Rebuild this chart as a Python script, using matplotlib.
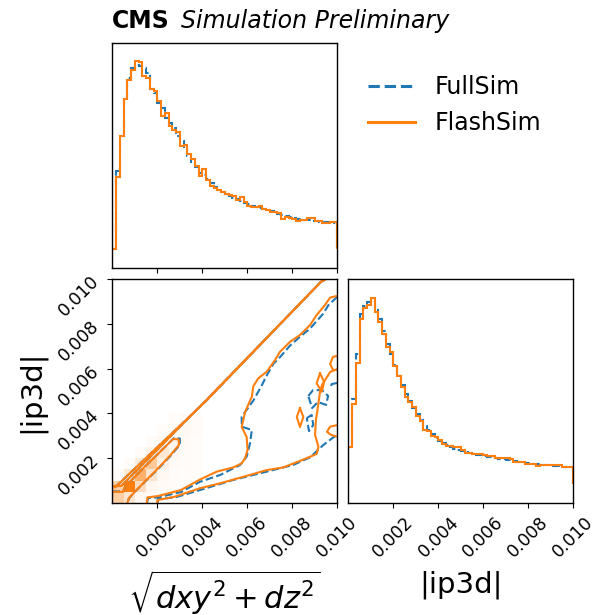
import numpy as np
import matplotlib.pyplot as plt
from matplotlib.colors import LinearSegmentedColormap
from matplotlib.lines import Line2D

BLUE = "#1f77b4"
ORANGE = "#ff7f0e"

# 1D histograms: 60 bins between 0 and 0.01 (arbitrary units)
edges = np.linspace(0, 0.01, 61)
dist_flash = [0, 72, 113, 150, 168, 178, 187, 186, 172, 170, 160, 158, 148, 133, 136,
              123, 119, 117, 103, 104, 95, 90, 83, 73, 80, 69, 63, 61, 59, 57,
              55, 54, 53, 49, 52, 47, 43, 42, 42, 43, 40, 39, 37, 37, 36,
              30, 32, 31, 30, 28, 29, 29, 31, 31, 28, 28, 26, 26, 27, 27]
dist_full = [0, 78, 113, 150, 170, 180, 183, 182, 180, 175, 160, 156, 146, 141, 131,
             126, 121, 113, 108, 100, 93, 87, 82, 76, 74, 70, 66, 62, 59, 57,
             55, 53, 51, 50, 48, 46, 45, 43, 42, 41, 40, 39, 38, 36, 35,
             34, 33, 32, 31, 30, 30, 29, 29, 28, 28, 27, 27, 27, 26, 27]
ip_flash = [37, 80, 121, 165, 176, 179, 186, 172, 162, 150, 137, 132, 118, 108, 97,
            87, 82, 77, 68, 63, 54, 53, 48, 47, 44, 40, 38, 38, 37, 37,
            34, 31, 31, 30, 30, 30, 29, 28, 28, 26, 26, 26, 26, 25, 22,
            22, 22, 20, 20, 20, 18, 19, 19, 19, 19, 19, 19, 17, 17, 17]
ip_full = [37, 85, 130, 170, 178, 182, 183, 176, 165, 153, 140, 130, 119, 108, 99,
           90, 83, 76, 70, 64, 58, 54, 50, 46, 43, 41, 39, 37, 35, 34,
           33, 32, 31, 30, 29, 29, 28, 27, 27, 26, 25, 25, 24, 23, 23,
           22, 22, 21, 21, 20, 20, 19, 19, 19, 18, 18, 18, 17, 17, 17]

# 2D density (FlashSim), 0.0005 cells in the low corner, rows = |ip3d| bins
cell_edges = np.linspace(0, 0.004, 9)
density = [
    [0.38, 0.20, 0.06, 0.04, 0.03, 0.03, 0.02, 0.02],
    [0.36, 1.00, 0.27, 0.07, 0.04, 0.03, 0.02, 0.02],
    [0.03, 0.18, 0.62, 0.20, 0.06, 0.03, 0.02, 0.02],
    [0.00, 0.03, 0.15, 0.42, 0.12, 0.04, 0.03, 0.02],
    [0.00, 0.00, 0.03, 0.10, 0.18, 0.07, 0.03, 0.02],
    [0.00, 0.00, 0.00, 0.03, 0.06, 0.08, 0.04, 0.02],
    [0.00, 0.00, 0.00, 0.00, 0.02, 0.05, 0.05, 0.03],
    [0.00, 0.00, 0.00, 0.00, 0.00, 0.02, 0.04, 0.03],
]

# contour lines, in units of 1e-3
diag_x = [0.00, 0.40, 4.18, 9.35, 9.40]
diag_y = [0.76, 0.76, 4.60, 9.96, 10.0]
diag2_x = [0.12, 4.20, 9.28, 9.52]
diag2_y = [0.70, 4.59, 9.88, 10.0]
core_x = [0.00, 0.48, 0.55, 1.29, 2.03, 2.70, 2.95, 2.96, 2.55, 1.96, 1.44, 1.00, 0.73, 0.67]
core_y = [0.50, 0.50, 0.70, 1.47, 2.19, 2.86, 2.84, 2.59, 2.10, 1.47, 0.95, 0.50, 0.21, 0.00]
core_full_x = [0.00, 0.48, 0.57, 1.31, 2.05, 2.74, 3.00, 3.00, 2.58, 1.98, 1.45, 1.00, 0.74, 0.68]
core_full_y = [0.52, 0.52, 0.72, 1.49, 2.22, 2.90, 2.88, 2.60, 2.10, 1.47, 0.95, 0.50, 0.21, 0.00]
band_x = [1.53, 1.56, 2.03, 3.05, 3.90, 4.64, 5.38, 5.75, 5.90, 6.01, 5.97, 5.75, 5.90,
          6.20, 6.27, 6.49, 6.86, 7.23, 7.45, 7.90, 8.34, 8.79, 9.08, 9.45, 9.68, 10.0]
band_y = [0.00, 0.25, 0.31, 0.58, 1.05, 1.40, 1.59, 1.77, 2.00, 2.37, 2.95, 3.39, 4.06,
          4.75, 5.22, 5.57, 5.86, 6.38, 6.75, 7.20, 7.50, 7.95, 8.39, 8.84, 9.17, 9.25]
band_full_x = [1.54, 1.59, 2.03, 3.05, 3.90, 4.79, 5.68, 5.97, 6.12, 6.20, 5.75, 5.75,
               6.27, 6.64, 6.86, 7.16, 7.45, 7.90, 8.34, 8.79, 9.38, 9.60, 10.0]
band_full_y = [0.00, 0.22, 0.25, 0.49, 0.95, 1.25, 1.70, 2.07, 2.67, 3.26, 3.41, 3.85,
               4.58, 5.25, 5.69, 6.22, 6.51, 7.03, 7.42, 7.79, 8.46, 8.83, 9.21]
low_x = [2.00, 2.00, 2.77, 3.90, 4.79, 5.82, 6.86, 7.60, 8.34, 9.08, 9.16, 9.01, 9.05,
         9.16, 9.23, 9.32, 9.68, 10.0]
low_y = [0.00, 0.13, 0.28, 0.66, 0.88, 1.17, 1.47, 1.59, 1.88, 2.19, 2.51, 3.04, 3.71,
         4.45, 4.97, 5.27, 5.85, 5.98]
low_full_x = [2.01, 2.03, 2.79, 3.90, 5.38, 6.86, 8.04, 8.79, 9.38, 9.82, 10.0]
low_full_y = [0.00, 0.18, 0.25, 0.58, 1.03, 1.40, 1.70, 2.04, 2.59, 2.93, 3.04]
isle1_x = [9.23, 9.41, 9.31, 9.08, 9.23]
isle1_y = [5.79, 5.42, 4.97, 5.34, 5.79]
isle2_x = [10.0, 9.81, 9.68, 9.81, 10.0]
isle2_y = [6.56, 6.53, 6.21, 5.94, 5.94]
isle3_x = [10.0, 9.68, 9.54, 9.72, 10.0]
isle3_y = [3.48, 3.41, 3.18, 3.04, 2.96]
isle4_x = [8.34, 8.49, 8.34, 8.20, 8.34]
isle4_y = [4.24, 3.84, 3.39, 3.84, 4.24]
isle_full1_x = [8.71, 8.92, 9.32, 9.59, 9.50, 9.14, 8.88, 8.71]
isle_full1_y = [4.78, 5.04, 5.04, 4.78, 4.38, 4.51, 4.24, 4.78]
isle_full2_x = [8.64, 8.86, 8.93, 8.74, 8.64]
isle_full2_y = [3.79, 3.93, 3.48, 3.21, 3.79]
isle_full3_x = [10.0, 9.75, 9.68]
isle_full3_y = [5.36, 5.31, 5.13]

flash_lines = [(diag_x, diag_y), (diag2_x, diag2_y), (core_x, core_y), (band_x, band_y),
               (low_x, low_y), (isle1_x, isle1_y), (isle2_x, isle2_y),
               (isle3_x, isle3_y), (isle4_x, isle4_y)]
full_lines = [(diag_x, diag_y), (diag2_x, diag2_y), (core_full_x, core_full_y),
              (band_full_x, band_full_y), (low_full_x, low_full_y),
              (isle_full1_x, isle_full1_y), (isle_full2_x, isle_full2_y),
              (isle_full3_x, isle_full3_y)]

ticks = [0.002, 0.004, 0.006, 0.008, 0.010]
tick_labels = ["0.002", "0.004", "0.006", "0.008", "0.010"]

fig = plt.figure(figsize=(5.94, 6.15), dpi=100)
ax_top = fig.add_axes([0.1891, 0.5647, 0.3788, 0.3659])
ax_2d = fig.add_axes([0.1891, 0.1821, 0.3788, 0.3642])
ax_ip = fig.add_axes([0.5864, 0.1821, 0.3788, 0.3642])

lw = 1.5
ax_top.stairs(dist_full, edges, color=BLUE, ls="--", lw=lw)
ax_top.stairs(dist_flash, edges, color=ORANGE, lw=lw)
m = max(max(dist_flash), max(dist_full))
ax_top.set_ylim(-0.1 * m, 1.1 * m)

ax_ip.stairs(ip_full, edges, color=BLUE, ls="--", lw=lw)
ax_ip.stairs(ip_flash, edges, color=ORANGE, lw=lw)
m = max(max(ip_flash), max(ip_full))
ax_ip.set_ylim(-0.1 * m, 1.1 * m)

cmap = LinearSegmentedColormap.from_list("dens", ["white", ORANGE])
ax_2d.pcolormesh(cell_edges, cell_edges, np.array(density), cmap=cmap, vmin=0, vmax=1)
for xs, ys in full_lines:
    ax_2d.plot(np.array(xs) * 1e-3, np.array(ys) * 1e-3, color=BLUE, ls="--", lw=lw)
for xs, ys in flash_lines:
    ax_2d.plot(np.array(xs) * 1e-3, np.array(ys) * 1e-3, color=ORANGE, lw=lw)

for ax in (ax_top, ax_2d, ax_ip):
    ax.set_xlim(0, 0.01)
    ax.set_xticks(ticks)
    for s in ax.spines.values():
        s.set_linewidth(1.0)

ax_top.set_xticklabels([])
ax_top.set_yticks([])
ax_ip.set_yticks([])
ax_2d.set_ylim(0, 0.01)
ax_2d.set_yticks(ticks)

for ax in (ax_2d, ax_ip):
    ax.set_xticklabels(tick_labels, rotation=45, fontsize=12.5)
ax_2d.set_yticklabels(tick_labels, rotation=45, fontsize=12.5)

ax_2d.set_xlabel(r"$\sqrt{dxy^2 + dz^2}$", fontsize=22)
ax_2d.xaxis.set_label_coords(0.5, -0.29)
ax_ip.set_xlabel("|ip3d|", fontsize=21)
ax_ip.xaxis.set_label_coords(0.5, -0.3)
ax_2d.set_ylabel("|ip3d|", fontsize=21)
ax_2d.yaxis.set_label_coords(-0.3, 0.5)

fig.text(112 / 594, 1 - 28 / 615, "CMS", fontsize=17, fontweight="bold")
fig.text(181 / 594, 1 - 28 / 615, "Simulation Preliminary", fontsize=17, style="italic")

handles = [Line2D([], [], color=BLUE, ls="--", lw=2.2),
           Line2D([], [], color=ORANGE, lw=2.2)]
fig.legend(handles, ["FullSim", "FlashSim"], loc="upper left",
           bbox_to_anchor=(347 / 594, 1 - 54 / 615), frameon=False, fontsize=17)

fig.savefig("out.png", dpi=100)
